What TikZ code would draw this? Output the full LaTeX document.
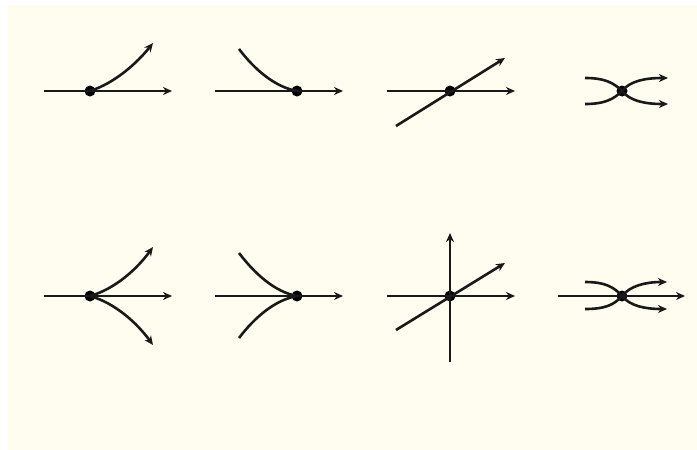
\documentclass[tikz,border=0pt]{standalone}
\usetikzlibrary{positioning,arrows.meta}
\definecolor{paper}{HTML}{FFFDF0}

\begin{document}
\begin{tikzpicture}[
    x=1pt, y=-1pt,
    crit/.style={circle, fill=black, inner sep=0pt, minimum size=11pt},
    flow/.style={-{Stealth[length=9pt,width=8pt]}, line width=2.6pt, draw=black!90},
    branch/.style={line width=2.6pt, draw=black!90},
]

% ---- paper ----
\fill[white] (0,0) rectangle (697,450);
\fill[paper] (8,5) rectangle (697,450);
\useasboundingbox (0,0) rectangle (697,450);

% ---- row 1 ----
\node[crit] (fold)   at (90,91)  {};
\node[crit] (merge)  at (297,91) {};
\node[crit] (cross)  at (450,91) {};
\node[crit] (kiss)   at (622,91) {};

\coordinate (foldIn)   at (44,91);   \coordinate (foldOut)  at (172,91);
\coordinate (foldUp)   at (153,43);
\coordinate (mergeIn)  at (215,91);  \coordinate (mergeOut) at (343,91);
\coordinate (mergeUp)  at (239,49);
\coordinate (crossIn)  at (387,91);  \coordinate (crossOut) at (515,91);
\coordinate (crossLo)  at (396,126); \coordinate (crossHi)  at (505,58);
\coordinate (kissUL)   at (585,78);  \coordinate (kissUR)   at (668,78);
\coordinate (kissLL)   at (585,104); \coordinate (kissLR)   at (668,104);

\draw[flow] (foldIn) -- (foldOut);
\draw[flow] (fold.center) .. controls (115,83) and (137,63) .. (foldUp);

\draw[flow] (mergeIn) -- (mergeOut);
\draw[branch] (mergeUp) .. controls (255,70) and (275,87) .. (merge.center);

\draw[flow] (crossIn) -- (crossOut);
\draw[flow] (crossLo) -- (crossHi);

\draw[flow] (kissUL) .. controls (605,78) and (614,83) .. (kiss.center)
                     .. controls (630,81) and (645,78) .. (kissUR);
\draw[flow] (kissLL) .. controls (605,104) and (614,99) .. (kiss.center)
                     .. controls (630,101) and (645,104) .. (kissLR);

% ---- row 2 ----
\node[crit] (split)  at (90,296)  {};
\node[crit] (join)   at (297,296) {};
\node[crit] (star)   at (450,296) {};
\node[crit] (bundle) at (622,296) {};

\coordinate (splitIn)  at (44,296);  \coordinate (splitOut) at (172,296);
\coordinate (splitUp)  at (153,247); \coordinate (splitDn)  at (153,345);
\coordinate (joinIn)   at (215,296); \coordinate (joinOut)  at (343,296);
\coordinate (joinUp)   at (239,253); \coordinate (joinDn)   at (239,338);
\coordinate (starIn)   at (387,296); \coordinate (starOut)  at (515,296);
\coordinate (starLo)   at (396,330); \coordinate (starHi)   at (505,263);
\coordinate (starBot)  at (450,362); \coordinate (starTop)  at (450,233);
\coordinate (bundleIn) at (558,296); \coordinate (bundleOut) at (685,296);
\coordinate (bundleUL) at (585,282); \coordinate (bundleUR) at (667,282);
\coordinate (bundleLL) at (585,309); \coordinate (bundleLR) at (667,309);

\draw[flow] (splitIn) -- (splitOut);
\draw[flow] (split.center) .. controls (115,289) and (137,269) .. (splitUp);
\draw[flow] (split.center) .. controls (115,303) and (137,323) .. (splitDn);

\draw[flow] (joinIn) -- (joinOut);
\draw[branch] (joinUp) .. controls (255,274) and (275,292) .. (join.center);
\draw[branch] (joinDn) .. controls (255,317) and (275,300) .. (join.center);

\draw[flow] (starIn) -- (starOut);
\draw[flow] (starLo) -- (starHi);
\draw[flow] (starBot) -- (starTop);

\draw[flow] (bundleIn) -- (bundleOut);
\draw[flow] (bundleUL) .. controls (605,282) and (614,287) .. (bundle.center)
                       .. controls (630,286) and (645,282) .. (bundleUR);
\draw[flow] (bundleLL) .. controls (605,309) and (614,305) .. (bundle.center)
                       .. controls (630,306) and (645,309) .. (bundleLR);

\end{tikzpicture}
\end{document}
